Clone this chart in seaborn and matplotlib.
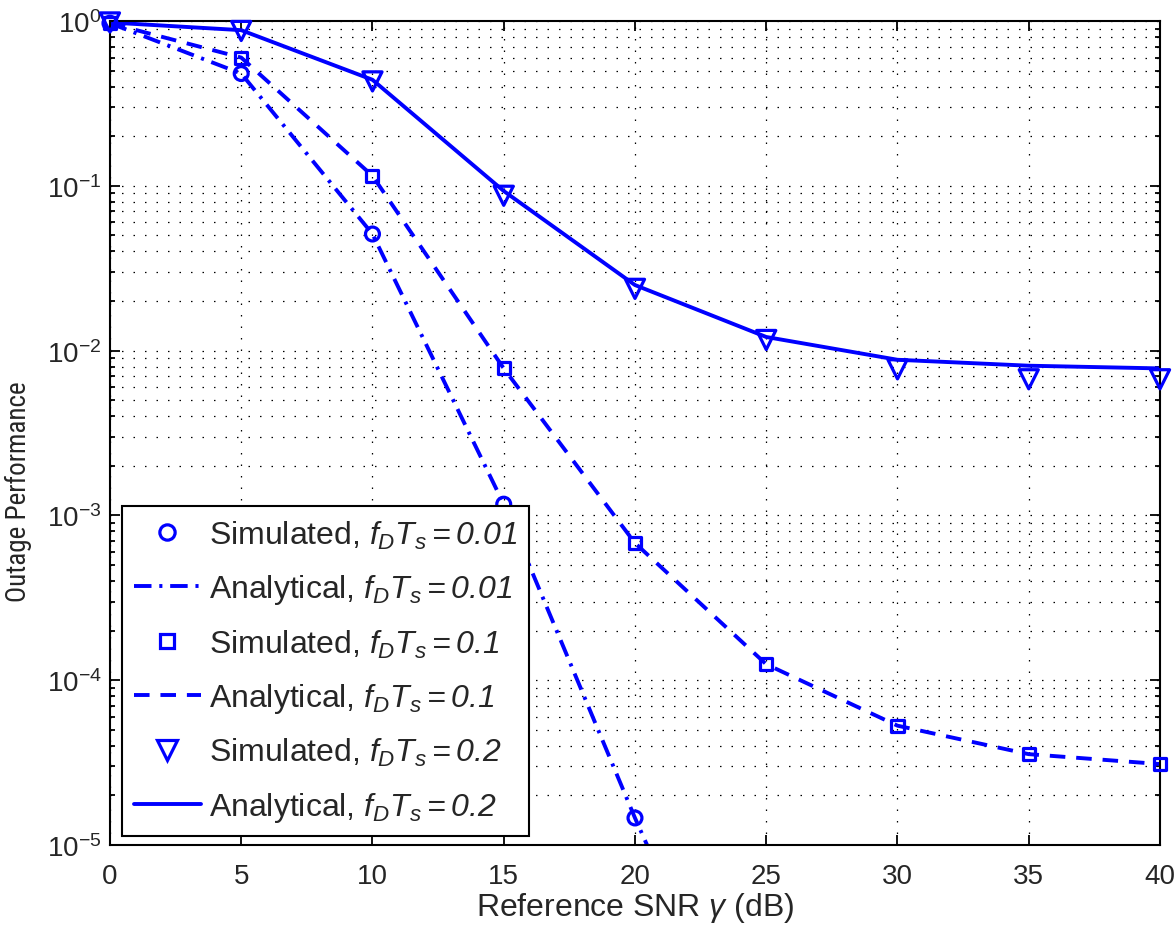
import numpy as np
import pandas as pd
import matplotlib
matplotlib.use("Agg")
import matplotlib.pyplot as plt
import seaborn as sns
from matplotlib.lines import Line2D
from matplotlib.ticker import LogLocator, NullFormatter, FixedLocator

# ---- data ----
snr = [0, 5, 10, 15, 20, 25, 30, 35, 40]
snr_sim_001 = [0, 5, 10, 15, 20]
sim_001 = [0.97, 0.48, 0.051, 1.17e-3, 1.46e-5]
snr_ana_001 = [0, 5, 10, 15, 20, 25]
ana_001 = [0.97, 0.48, 0.051, 1.17e-3, 1.46e-5, 2.4e-7]
sim_01 = [0.97, 0.60, 0.115, 7.8e-3, 6.8e-4, 1.25e-4, 5.3e-5, 3.56e-5, 3.1e-5]
ana_01 = [0.97, 0.60, 0.115, 7.8e-3, 6.8e-4, 1.25e-4, 5.3e-5, 3.56e-5, 3.1e-5]
sim_02 = [0.98, 0.87, 0.43, 0.087, 0.0237, 0.0116, 0.0077, 0.0067, 0.0067]
ana_02 = [0.98, 0.88, 0.44, 0.093, 0.025, 0.0121, 0.0088, 0.0081, 0.0078]
labels = [
    r"Simulated, $\mathit{f_DT_s}\mathsf{{=}0.01}$",
    r"Analytical, $\mathit{f_DT_s}\mathsf{{=}0.01}$",
    r"Simulated, $\mathit{f_DT_s}\mathsf{{=}0.1}$",
    r"Analytical, $\mathit{f_DT_s}\mathsf{{=}0.1}$",
    r"Simulated, $\mathit{f_DT_s}\mathsf{{=}0.2}$",
    r"Analytical, $\mathit{f_DT_s}\mathsf{{=}0.2}$",
]
xticks = [0, 5, 10, 15, 20, 25, 30, 35, 40]

sns.set_theme(style="ticks")
plt.rcParams["font.family"] = ["Liberation Sans", "DejaVu Sans"]
plt.rcParams["mathtext.fontset"] = "custom"
plt.rcParams["mathtext.rm"] = "Liberation Sans"
plt.rcParams["mathtext.it"] = "Liberation Sans:italic"
plt.rcParams["mathtext.sf"] = "Liberation Sans:italic"
plt.rcParams["mathtext.bf"] = "Liberation Sans:bold"

fig = plt.figure(figsize=(11.76, 9.29), dpi=100)
ax = fig.add_axes([0.0935, 0.0893, 0.8929, 0.887])
ax.set_yscale("log")

blue = (0, 0, 1)
lw = 2.8
dash = (0, (4.0, 2.8))
dashdot = (0, (4.5, 2.0, 0.8, 2.0))

sns.lineplot(x=snr_ana_001, y=ana_001, ax=ax, color=blue, lw=lw, linestyle=dashdot)
sns.lineplot(x=snr, y=ana_01, ax=ax, color=blue, lw=lw, linestyle=dash)
sns.lineplot(x=snr, y=ana_02, ax=ax, color=blue, lw=lw, linestyle="-")

msty = dict(facecolor="none", edgecolor=blue, linewidth=2.3, zorder=3, clip_on=False)
sns.scatterplot(x=snr_sim_001, y=sim_001, ax=ax, marker="o", s=100, **msty)
sns.scatterplot(x=snr, y=sim_01, ax=ax, marker="s", s=75, **msty)
sns.scatterplot(x=snr, y=sim_02, ax=ax, marker="v", s=190, **msty)

ax.set_xlim(0, 40)
ax.set_ylim(1e-5, 1)
ax.xaxis.set_major_locator(FixedLocator(xticks))
ax.yaxis.set_major_locator(LogLocator(base=10, numticks=10))
ax.yaxis.set_minor_locator(LogLocator(base=10, subs=np.arange(2, 10), numticks=20))
ax.yaxis.set_minor_formatter(NullFormatter())

ax.tick_params(which="both", direction="in", top=True, right=True, labelsize=20,
               color="black", width=1.3)
ax.tick_params(which="major", length=7)
ax.tick_params(which="minor", length=3.6)
ax.tick_params(axis="x", which="major", pad=13)
ax.tick_params(axis="y", which="major", pad=6)
for s in ax.spines.values():
    s.set_linewidth(1.5)
    s.set_color("black")

grid_ls = (0, (1.2, 8))
ax.grid(True, which="major", axis="both", linestyle=grid_ls, color="black", lw=0.9)
ax.grid(True, which="minor", axis="y", linestyle=grid_ls, color="black", lw=0.9)
ax.set_axisbelow(True)

ax.set_xlabel(r"Reference SNR $\mathit{\gamma}$ (dB)", fontsize=23, labelpad=1)
ax.set_ylabel("Outage Performance", fontsize=19.5,
              family=["Roboto Condensed", "Liberation Sans"])
ax.yaxis.set_label_coords(-0.074, 0.43)

handles = [
    Line2D([], [], color=blue, marker="o", ls="none", mfc="none", mew=2.3, ms=11),
    Line2D([], [], color=blue, lw=lw, linestyle=dashdot),
    Line2D([], [], color=blue, marker="s", ls="none", mfc="none", mew=2.3, ms=9.5),
    Line2D([], [], color=blue, lw=lw, linestyle=dash),
    Line2D([], [], color=blue, marker="v", ls="none", mfc="none", mew=2.3, ms=15),
    Line2D([], [], color=blue, lw=lw, linestyle="-"),
]
leg = ax.legend(handles, labels, loc="lower left", bbox_to_anchor=(0.011, 0.011),
                fontsize=23, frameon=True, fancybox=False, framealpha=1,
                edgecolor="black", handlelength=2.1, handletextpad=0.25,
                labelspacing=0.67, borderpad=0.38, borderaxespad=0)
leg.get_frame().set_linewidth(1.5)

fig.savefig("out.png", dpi=100)
